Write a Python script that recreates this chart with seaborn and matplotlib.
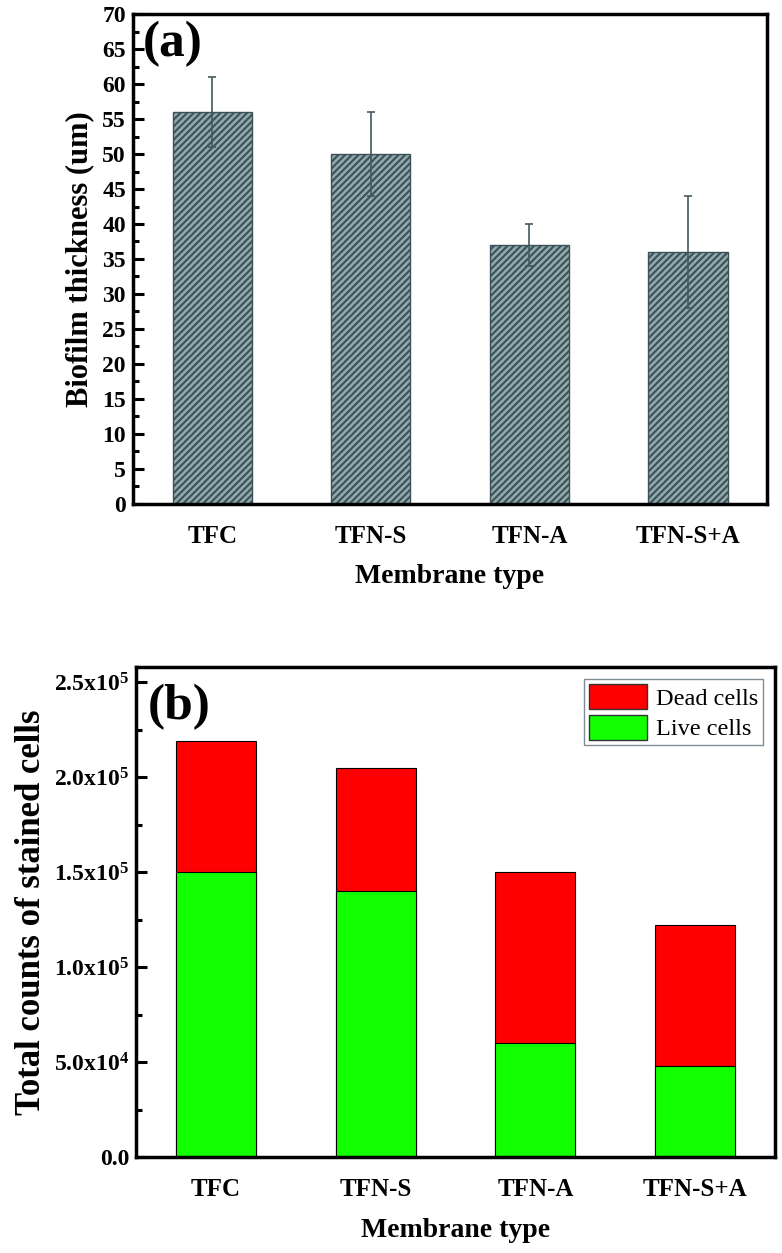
import matplotlib
matplotlib.use("Agg")
import matplotlib.pyplot as plt
import seaborn as sns
import pandas as pd
import numpy as np
from matplotlib.ticker import MultipleLocator, FuncFormatter
from matplotlib.patches import Patch

# ---- data ----
membranes = ["TFC", "TFN-S", "TFN-A", "TFN-S+A"]
thickness = [56, 50, 37, 36]
thickness_err = [5, 6, 3, 8]
live_cells = [1.50e5, 1.40e5, 0.60e5, 0.48e5]
dead_cells = [0.69e5, 0.65e5, 0.90e5, 0.74e5]
total_cells = [l + d for l, d in zip(live_cells, dead_cells)]

sns.set_theme(style="white")
plt.rcParams['font.family'] = ['Liberation Serif', 'DejaVu Serif']
plt.rcParams['font.weight'] = 'bold'
plt.rcParams['text.color'] = 'black'
plt.rcParams['axes.labelcolor'] = 'black'
plt.rcParams['xtick.color'] = 'black'
plt.rcParams['ytick.color'] = 'black'
plt.rcParams['mathtext.fontset'] = 'custom'
plt.rcParams['mathtext.rm'] = 'Liberation Serif:bold'
plt.rcParams['mathtext.bf'] = 'Liberation Serif:bold'
plt.rcParams['mathtext.default'] = 'bf'
plt.rcParams['hatch.linewidth'] = 1.5
plt.rcParams['hatch.color'] = '#2f4a50'

fig = plt.figure(figsize=(7.82, 12.53), dpi=100)
ax1 = fig.add_axes([0.170, 0.5978, 0.811, 0.391])
ax2 = fig.add_axes([0.174, 0.0766, 0.817, 0.391])

TICK = 17
XTICK = 18
XLAB = 20

df1 = pd.DataFrame({"membrane": membranes, "thickness": thickness})
sns.barplot(data=df1, x="membrane", y="thickness", ax=ax1, color="#93a8ac",
            width=0.5, saturation=1, edgecolor="#3a5257", linewidth=1.0, errorbar=None)
for p in ax1.patches:
    p.set_hatch("/////")
ax1.errorbar(x=np.arange(len(membranes)), y=thickness, yerr=thickness_err,
             fmt="none", ecolor="#44595e", elinewidth=1.2, capsize=3, capthick=1.2)
ax1.set_xlim(-0.5, 3.5)
ax1.set_ylim(0, 70)
ax1.yaxis.set_major_locator(MultipleLocator(5))
ax1.yaxis.set_minor_locator(MultipleLocator(2.5))
ax1.set_ylabel("Biofilm thickness (um)", fontsize=22, fontweight='bold', labelpad=6)
ax1.set_xlabel("Membrane type", fontsize=XLAB, fontweight='bold', labelpad=12)
ax1.text(0.015, 0.985, "(a)", transform=ax1.transAxes, fontsize=37, fontweight='bold',
         va='top', ha='left')

df2 = pd.DataFrame({"membrane": membranes, "total": total_cells, "live": live_cells})
sns.barplot(data=df2, x="membrane", y="total", ax=ax2, color="#ff0000", width=0.5,
            saturation=1, edgecolor="black", linewidth=0.8, errorbar=None)
sns.barplot(data=df2, x="membrane", y="live", ax=ax2, color="#11ff00", width=0.5,
            saturation=1, edgecolor="black", linewidth=0.8, errorbar=None)
ax2.set_xlim(-0.5, 3.5)
ax2.set_ylim(0, 2.58e5)
ax2.yaxis.set_major_locator(MultipleLocator(0.5e5))
ax2.yaxis.set_minor_locator(MultipleLocator(0.25e5))


def sci_fmt(v, pos):
    if abs(v) < 1e-9:
        return "0.0"
    e = int(np.floor(np.log10(abs(v))))
    m = v / 10 ** e
    return f"{m:.1f}x10$^{{{e}}}$"


ax2.yaxis.set_major_formatter(FuncFormatter(sci_fmt))
ax2.set_ylabel("Total counts of stained cells", fontsize=25, fontweight='bold', labelpad=4)
ax2.set_xlabel("Membrane type", fontsize=XLAB, fontweight='bold', labelpad=12)
ax2.text(0.018, 0.965, "(b)", transform=ax2.transAxes, fontsize=37, fontweight='bold',
         va='top', ha='left')
handles = [Patch(facecolor="#ff0000", edgecolor="#333333", label="Dead cells"),
           Patch(facecolor="#11ff00", edgecolor="#333333", label="Live cells")]
leg = ax2.legend(handles=handles, loc="upper right", fancybox=False, frameon=True,
                 prop={'family': 'Liberation Serif', 'weight': 'normal', 'size': 17.5},
                 handlelength=2.4, handleheight=1.2, borderpad=0.2, labelspacing=0.2,
                 handletextpad=0.35, borderaxespad=0.5)
leg.get_frame().set_edgecolor("#607078")
leg.get_frame().set_linewidth(1.0)

for ax in (ax1, ax2):
    for s in ax.spines.values():
        s.set_visible(True)
        s.set_color("black")
        s.set_linewidth(2.5)
    ax.tick_params(axis='y', which='major', direction='in', length=8, width=2.2,
                   labelsize=TICK, left=True, right=False, pad=5)
    ax.tick_params(axis='y', which='minor', direction='in', length=4.5, width=2.2, left=True)
    ax.tick_params(axis='x', which='both', bottom=False, top=False, labelsize=XTICK, pad=9)
    for lab in ax.get_xticklabels() + ax.get_yticklabels():
        lab.set_fontweight('bold')
    ax.grid(False)

fig.savefig("out.png", dpi=100)
